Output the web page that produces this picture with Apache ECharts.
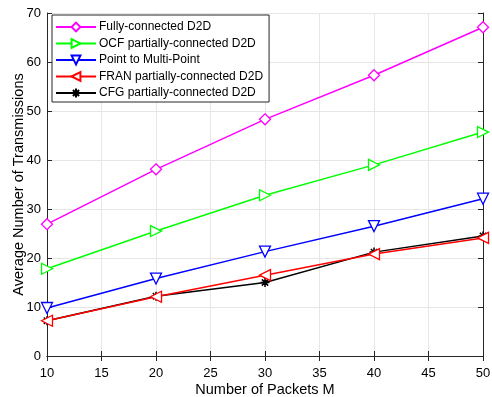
<!DOCTYPE html>
<html><head><meta charset="utf-8">
<script src="https://cdn.jsdelivr.net/npm/echarts@6/dist/echarts.min.js"></script>
<style>html,body{margin:0;padding:0;background:#fff}#c{width:492px;height:397px}</style>
</head><body><div id="c"></div>
<script>
const packets = [10, 20, 30, 40, 50];
const fully = [26.9, 38.1, 48.3, 57.3, 67.1];
const ocf = [17.8, 25.5, 32.8, 39.0, 45.7];
const pmp = [9.8, 15.8, 21.3, 26.5, 32.1];
const fran = [7.2, 12.1, 16.5, 20.8, 24.1];
const cfg = [7.2, 12.2, 15.0, 21.2, 24.5];
const names = ['Fully-connected D2D','OCF partially-connected D2D','Point to Multi-Point','FRAN partially-connected D2D','CFG partially-connected D2D'];
const colors = ['#ff00ff','#00ff00','#0000ff','#ff0000','#000000'];
const symbols = ['diamond','triangle','triangle','triangle','path://M0,-10L0,10M-10,0L10,0M-7,-7L7,7M-7,7L7,-7'];
const rotates = [0,-90,180,90,0];
const sizes = [11,11,11,11,9];
const vals = [fully, ocf, pmp, fran, cfg];
const font = 'Liberation Sans, Arial, Helvetica, sans-serif';
const axisCol = '#262626';
const chart = echarts.init(document.getElementById('c'));
const series = vals.map((v,i)=>({
  name: names[i], type:'line', xAxisIndex:0, yAxisIndex:0,
  data: packets.map((p,j)=>[p, v[j]]),
  symbol: symbols[i], symbolRotate: rotates[i], symbolSize: sizes[i],
  showAllSymbol:true,
  lineStyle:{color:colors[i], width:1.5},
  itemStyle:{color:'#fff', borderColor:colors[i], borderWidth:1.3},
  emphasis:{disabled:true}, animation:false, z: 10-i
}));
series[4].itemStyle = {color:'#000', borderColor:'#000', borderWidth:1.5};
chart.setOption({
  animation:false,
  textStyle:{fontFamily:font},
  grid:{left:47, right:9, top:13, bottom:41, containLabel:false, outerBoundsMode:'none'},
  legend:{
    orient:'vertical', left:52, top:15, backgroundColor:'#fff',
    borderColor:axisCol, borderWidth:1, padding:[5,6,2,3], itemGap:2.5,
    itemWidth:40, itemHeight:11,
    textStyle:{fontFamily:font, fontSize:12, lineHeight:14, color:'#000', padding:[0,0,0,-2]},
    data: names
  },
  xAxis:[{
    type:'value', min:10, max:50, interval:5, position:'bottom',
    name:'Number of Packets M', nameLocation:'middle', nameGap:26, nameMoveOverlap:false,
    nameTextStyle:{fontFamily:font, fontSize:14.5, color:'#000'},
    axisLine:{lineStyle:{color:axisCol, width:1}},
    axisTick:{inside:true, length:5, lineStyle:{color:axisCol}},
    axisLabel:{fontFamily:font, fontSize:13, color:'#000', margin:11},
    splitLine:{show:true, lineStyle:{color:'#e6e6e6', width:1}}
  },{
    type:'value', min:10, max:50, interval:5, position:'top',
    axisLine:{show:true, lineStyle:{color:axisCol, width:1}},
    axisTick:{show:true, inside:true, length:5, lineStyle:{color:axisCol}},
    axisLabel:{show:false}, splitLine:{show:false}
  }],
  yAxis:[{
    type:'value', min:0, max:70, interval:10, position:'left',
    name:'Average Number of Transmissions', nameLocation:'middle', nameGap:21, nameMoveOverlap:false,
    nameTextStyle:{fontFamily:font, fontSize:14.5, color:'#000'},
    axisLine:{show:true, lineStyle:{color:axisCol, width:1}},
    axisTick:{show:true, inside:true, length:5, lineStyle:{color:axisCol}},
    axisLabel:{fontFamily:font, fontSize:13, color:'#000', margin:6},
    splitLine:{show:true, lineStyle:{color:'#e6e6e6', width:1}}
  },{
    type:'value', min:0, max:70, interval:10, position:'right',
    axisLine:{show:true, lineStyle:{color:axisCol, width:1}},
    axisTick:{show:true, inside:true, length:5, lineStyle:{color:axisCol}},
    axisLabel:{show:false}, splitLine:{show:false}
  }],
  series: series
});
</script></body></html>
